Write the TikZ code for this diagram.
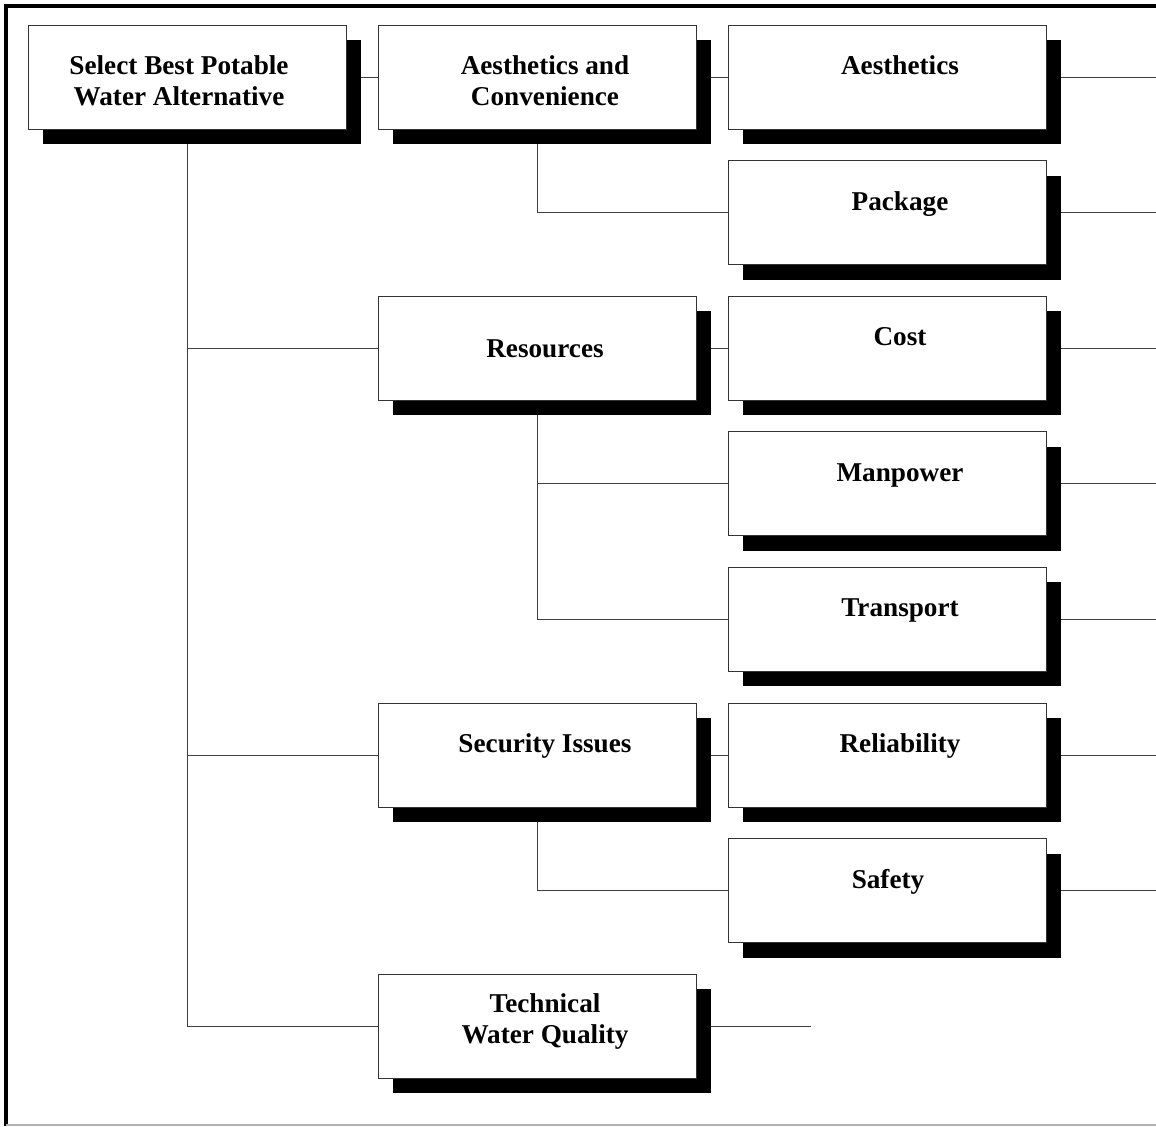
\documentclass[tikz,border=0pt]{standalone}
\usepackage{fontspec}
\setmainfont{Liberation Serif}
\usetikzlibrary{positioning,shadows,backgrounds}

\tikzset{
  box/.style={draw=black!80, fill=white, line width=0.5pt, inner sep=0pt,
    minimum width=159pt, minimum height=52pt,
    drop shadow={shadow xshift=7.5pt, shadow yshift=-7.5pt, fill=black, opacity=1}},
  lbl/.style={font=\fontsize{13.6}{15.4}\selectfont\bfseries, align=center, inner sep=0pt},
  one/.style={lbl, text height=9pt, text depth=3pt},
  lbl2/.style={one, xshift=4pt, yshift=4.3pt},
  lbl3/.style={one, xshift=6.5pt, yshift=4.3pt},
  line/.style={draw=black!75, line width=0.5pt},
}

\begin{document}
\begin{tikzpicture}[x=0.5pt, y=-0.5pt, node distance=67.8pt and 175pt, on grid]
  \useasboundingbox (0,0) rectangle (1156,1126);
  % frame
  \draw[line width=1.8pt] (1156,6) -- (6,6) -- (6,1126);
  \draw[black!30, line width=0.6pt] (6,1125) -- (1156,1125);

  % goal and criteria
  \node[box, label={[lbl, xshift=-4pt, yshift=-1.8pt]center:Select Best Potable\\Water Alternative}] (goal) at (187,77) {};
  \node[box, right=of goal, label={[lbl, xshift=4pt, yshift=-1.8pt]center:Aesthetics and\\Convenience}] (conv) {};
  \node[box, right=of conv, label={[lbl3]center:Aesthetics}] (aes) {};
  \node[box, below=of aes, label={[lbl3]center:Package}] (pkg) {};
  \node[box, below=of pkg, label={[lbl3]center:Cost}] (cost) {};
  \node[box, left=of cost, label={[one, xshift=4pt, yshift=-1.8pt]center:Resources}] (res) {};
  \node[box, below=of cost, label={[lbl3]center:Manpower}] (man) {};
  \node[box, below=of man, label={[lbl3]center:Transport}] (tra) {};
  \node[box, below=of tra, label={[lbl3]center:Reliability}] (rel) {};
  \node[box, left=of rel, label={[lbl2]center:Security Issues}] (sec) {};
  \node[box, below=of rel, label={[one, xshift=0.5pt, yshift=4.3pt]center:Safety}] (saf) {};
  \node[box, below=135.6pt of sec, label={[lbl, xshift=4pt, yshift=2.2pt]center:Technical\\Water Quality}] (twq) {};

  % free ends
  \coordinate (rim) at (1156,0);
  \coordinate[right=57.4pt of twq.east] (twq-out);

  \begin{scope}[on background layer]
    \draw[line] (goal) -- (conv);
    \draw[line] (goal) |- (res);
    \draw[line] (goal) |- (sec);
    \draw[line] (goal) |- (twq);
    \draw[line] (conv) -- (aes);
    \draw[line] (conv) |- (pkg);
    \draw[line] (res) -- (cost);
    \draw[line] (res) |- (man);
    \draw[line] (res) |- (tra);
    \draw[line] (sec) -- (rel);
    \draw[line] (sec) |- (saf);
    \draw[line] (twq) -- (twq-out);
    \foreach \n in {aes,pkg,cost,man,tra,rel,saf} {
      \coordinate (\n-out) at (\n -| rim);
      \draw[line] (\n) -- (\n-out);
    }
  \end{scope}
\end{tikzpicture}
\end{document}
